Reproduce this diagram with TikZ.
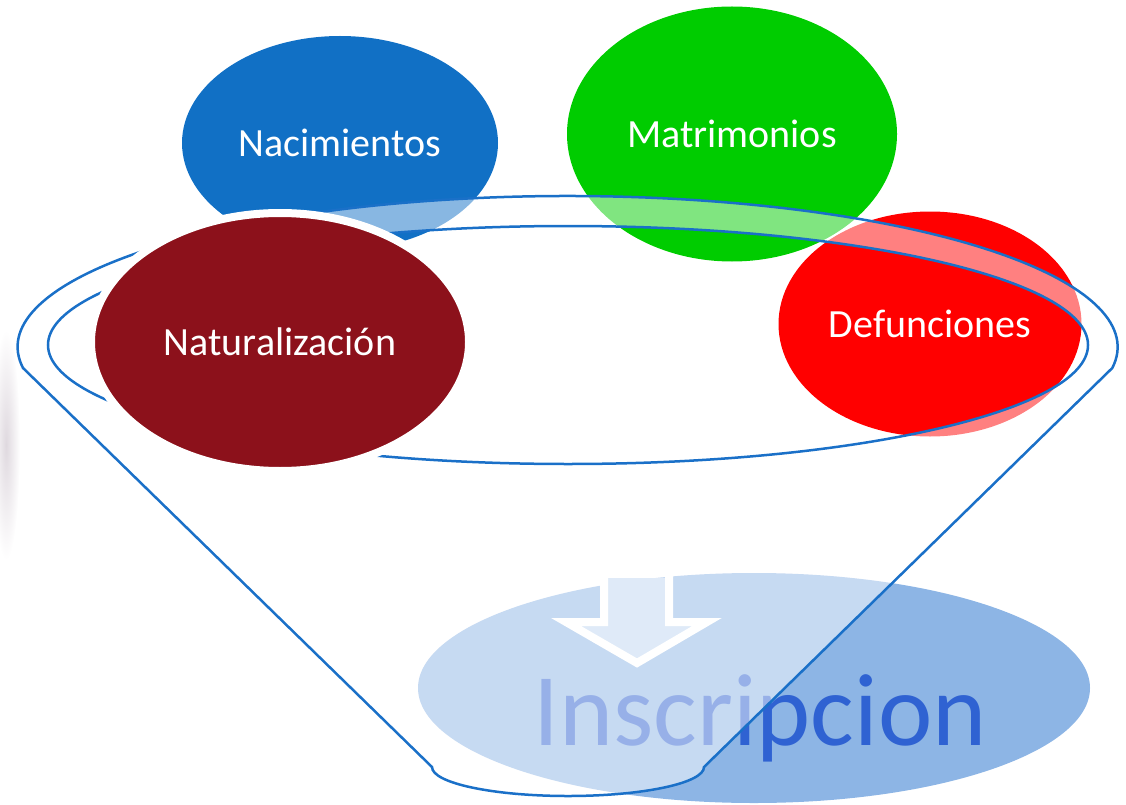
\documentclass[tikz,border=0pt]{standalone}
\usepackage{fontspec}
\setmainfont{Carlito}
\usetikzlibrary{shapes.geometric}
\definecolor{nacblue}{HTML}{1170C5}
\definecolor{matgreen}{HTML}{00CC00}
\definecolor{defred}{HTML}{FF0000}
\definecolor{natred}{HTML}{8C111B}
\definecolor{rimblue}{HTML}{1A70C8}
\definecolor{insblue}{HTML}{8DB5E5}
\definecolor{instext}{HTML}{2F62D2}
\begin{document}
\begin{tikzpicture}[x=1pt, y=-1pt,
  bubble/.style={ellipse, inner sep=0pt, text=white, font=\fontsize{40}{40}\selectfont},
  rim/.style={draw=rimblue, line width=2.5pt}]
  \useasboundingbox (0,0) rectangle (1126,805);
  \shade[inner color=violet!20!gray!25, outer color=white] (6,445) ellipse [x radius=14, y radius=115];

  % result
  \node[ellipse, fill=insblue, minimum width=672pt, minimum height=230pt] (ins) at (754,688) {};
  \node[anchor=base, inner sep=0pt, text=instext, font=\fontsize{103}{103}\selectfont] (instxt) at (760,745) {Inscripcion};
  \fill[insblue!55!white] (604,578) -- (669,578) -- (669,622) -- (707,622)
    -- (637,663) -- (566,622) -- (604,622) -- cycle;
  \draw[white, line width=8pt] (604,576) -- (604,622) -- (566,622) -- (637,663)
    -- (707,622) -- (669,622) -- (669,576);

  % records
  \node[bubble, fill=nacblue, minimum width=316pt, minimum height=214pt] (nac) at (340,143) {Nacimientos};
  \node[bubble, fill=matgreen, minimum width=330pt, minimum height=255pt] (mat) at (732,134) {Matrimonios};
  \node[bubble, fill=defred, minimum width=303pt, minimum height=225pt] (def) at (930,324) {Defunciones};

  % funnel
  \fill[white, opacity=0.5, even odd rule] (23,368) arc[start angle=172, end angle=368, x radius=550, y radius=151]
    -- (704,767) arc[start angle=0, end angle=180, x radius=136, y radius=29] -- cycle
    (568,345) ellipse [x radius=520, y radius=119];
  \draw[rim] (23,368) arc[start angle=172, end angle=368, x radius=550, y radius=151]
    -- (704,767) arc[start angle=0, end angle=180, x radius=136, y radius=29] -- cycle;
  \draw[rim] (568,345) ellipse [x radius=520, y radius=119];

  \node[bubble, fill=natred, draw=white, line width=8pt, minimum width=378pt, minimum height=258pt] (nat) at (280,342) {Naturalización};
\end{tikzpicture}
\end{document}
